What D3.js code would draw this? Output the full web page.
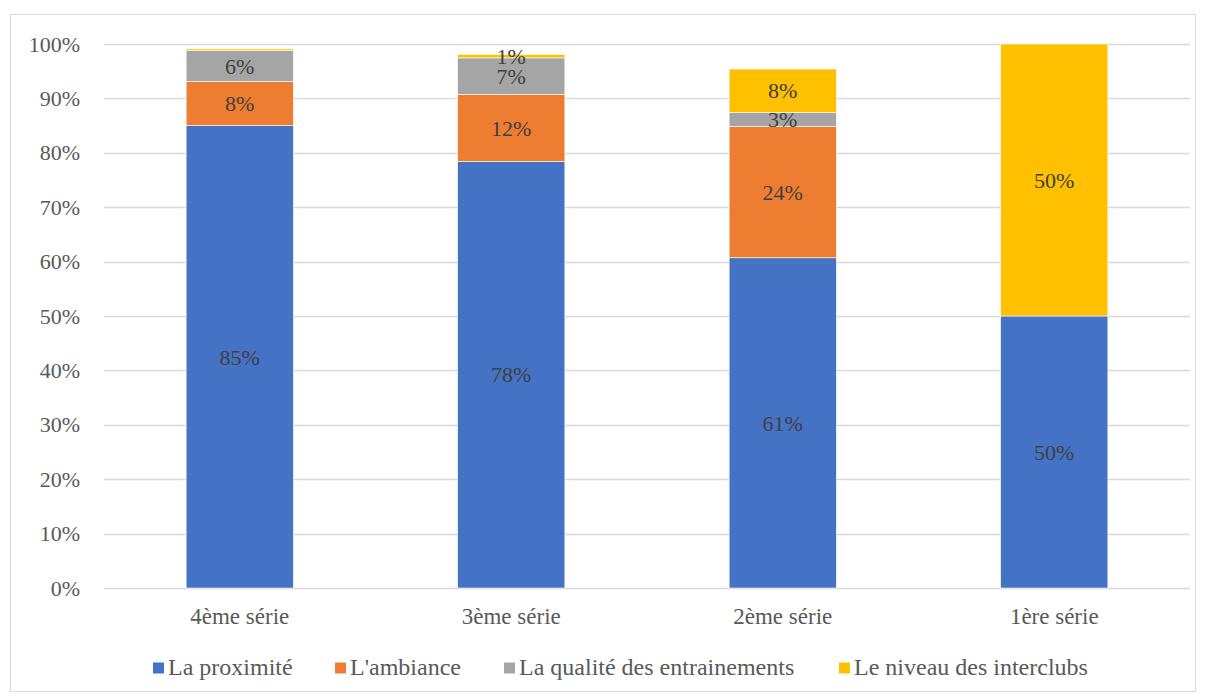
<!DOCTYPE html>
<html>
<head>
<meta charset="utf-8">
<script src="https://cdn.jsdelivr.net/npm/d3@7"></script>
<style>
  body { margin: 0; background: #fff; }
  svg text { font-family: "Liberation Serif", "Times New Roman", Times, "DejaVu Serif", serif !important; }
</style>
</head>
<body>
<script>
    // data (percent)
    const categories = ["4ème série", "3ème série", "2ème série", "1ère série"];
    const seriesNames = ["La proximité", "L'ambiance", "La qualité des entrainements", "Le niveau des interclubs"];
    const proximite = [85, 78.4, 60.7, 50];
    const ambiance = [8.1, 12.3, 24.1, 0];
    const qualite = [5.7, 6.75, 2.6, 0];
    const niveau = [0.3, 0.6, 8.0, 50];
    const colors = ["#4472C4", "#ED7D31", "#A5A5A5", "#FFC000"];
    const yTicks = [0, 10, 20, 30, 40, 50, 60, 70, 80, 90, 100];

    const W = 1206, H = 697;
    const margin = {top: 44, right: 16, bottom: 109, left: 104};

    var svg = d3.select("body").append("svg")
        .attr("width", W)
        .attr("height", H);

    // chart frame
    svg.append("rect")
        .attr("x", 10.5).attr("y", 14.5)
        .attr("width", W - 21).attr("height", H - 20)
        .attr("fill", "none")
        .attr("stroke", "#d9d9d9");

    var x = d3.scaleBand()
        .domain(categories)
        .range([margin.left, W - margin.right])
        .paddingInner(0.605)
        .paddingOuter(0.3025);

    var y = d3.scaleLinear()
        .domain([0, 100])
        .range([H - margin.bottom, margin.top]);

    // gridlines
    svg.append("g").selectAll("line")
        .data(yTicks)
        .enter().append("line")
        .attr("x1", margin.left).attr("x2", W - margin.right)
        .attr("y1", d => Math.round(y(d)) + 0.5)
        .attr("y2", d => Math.round(y(d)) + 0.5)
        .attr("stroke", "#d9d9d9")
        .attr("stroke-width", 1.3);

    // y axis labels
    var yAxis = d3.axisLeft(y).tickValues(yTicks).tickSize(0).tickPadding(24)
        .tickFormat(d => d + "%");
    var gy = svg.append("g")
        .attr("transform", "translate(" + margin.left + ",0)")
        .call(yAxis);
    gy.select(".domain").remove();
    gy.attr("font-family", null);
    gy.selectAll("text")
        .attr("font-size", 22)
        .attr("fill", "#595959");

    // x axis labels
    var xAxis = d3.axisBottom(x).tickSize(0).tickPadding(0);
    var gx = svg.append("g")
        .attr("transform", "translate(0," + (H - margin.bottom) + ")")
        .call(xAxis);
    gx.select(".domain").remove();
    gx.attr("font-family", null);
    gx.selectAll("text")
        .attr("y", 36)
        .attr("dy", null)
        .attr("font-size", 23)
        .attr("fill", "#595959");

    // stack
    var rows = categories.map(function(c, i) {
        return {cat: c, s0: proximite[i], s1: ambiance[i], s2: qualite[i], s3: niveau[i]};
    });
    var stack = d3.stack().keys(["s0", "s1", "s2", "s3"]);
    var layers = stack(rows);

    var lg = svg.selectAll(".layer")
        .data(layers)
        .enter().append("g")
        .attr("class", "layer")
        .attr("fill", (d, i) => colors[i]);

    lg.selectAll("rect")
        .data(d => d)
        .enter().append("rect")
        .attr("x", d => x(d.data.cat))
        .attr("y", d => y(d[1]))
        .attr("width", x.bandwidth())
        .attr("height", d => y(d[0]) - y(d[1]))
        .attr("stroke", "#fff")
        .attr("stroke-width", 0.6);

    // data labels
    lg.selectAll("text")
        .data(d => d.filter(p => Math.round(p[1] - p[0]) >= 1))
        .enter().append("text")
        .attr("x", d => x(d.data.cat) + x.bandwidth() / 2)
        .attr("y", d => y((d[0] + d[1]) / 2))
        .attr("dy", "0.35em")
        .attr("text-anchor", "middle")
        .attr("font-size", 22)
        .attr("fill", "#404040")
        .text(d => Math.round(d[1] - d[0]) + "%");

    // legend
    var legendX = [153, 335, 504, 839];
    var leg = svg.append("g").selectAll("g")
        .data(seriesNames)
        .enter().append("g")
        .attr("transform", (d, i) => "translate(" + legendX[i] + ",668)");
    leg.append("rect")
        .attr("x", 0).attr("y", -5.5)
        .attr("width", 11).attr("height", 11)
        .attr("fill", (d, i) => colors[i]);
    leg.append("text")
        .attr("x", 15)
        .attr("y", 7)
        .attr("font-size", 24)
        .attr("fill", "#595959")
        .text(d => d);
</script>
</body>
</html>
